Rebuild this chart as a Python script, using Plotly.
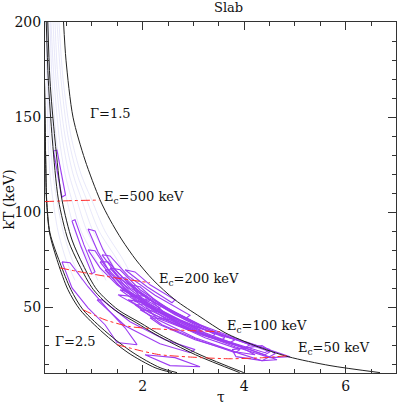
import plotly.graph_objects as go

# ---------------- data (tau, kT in keV) ----------------
gamma15_tau = [0.44, 0.489, 0.627, 0.863, 1.159, 1.356, 1.592, 1.868, 2.203, 2.636, 3.129, 3.622, 4.213, 4.863, 5.690, 6.675]
gamma15_kT  = [200, 179.9, 149.9, 127.4, 106.4, 95.9, 85.3, 74.8, 64.3, 53.8, 44.9, 36.5, 29.7, 23.9, 19.2, 15.5]

gamma25_tau = [0.05, 0.07, 0.09, 0.108, 0.173, 0.370, 0.587, 0.824, 1.297, 1.809, 2.341, 2.676]
gamma25_kT  = [200, 160, 125, 106.4, 89.0, 73.3, 59.1, 48.6, 36.5, 26.0, 18.1, 15.5]
gamma25b_tau = [0.05, 0.07, 0.09, 0.105, 0.165, 0.331, 0.528, 0.765, 1.218, 1.710, 2.242, 2.577]
gamma25b_kT  = [200, 160, 125, 106.4, 89.0, 73.3, 59.1, 48.6, 36.5, 26.0, 18.1, 15.5]

midA_tau = [0.13, 0.173, 0.272, 0.410, 0.607, 0.824, 1.099, 1.513, 1.947, 2.341, 3.129, 3.990]
midA_kT  = [200, 169.4, 137.9, 106.4, 85.3, 72.2, 59.1, 48.6, 41.8, 35.5, 24.9, 15.5]
midB_tau = [0.10, 0.14, 0.22, 0.34, 0.53, 0.75, 1.03, 1.44, 1.87, 2.26, 3.04, 3.91]
midB_kT  = [200, 169.4, 137.9, 106.4, 85.3, 72.2, 59.1, 48.6, 41.8, 35.5, 24.9, 15.5]

# faint lavender fan (tau values at the kT levels below)
fan_kT = [200, 170, 140, 120, 106, 90, 75, 64]
fan_tau = [
    [0.095, 0.114, 0.134, 0.173, 0.233, 0.331, 0.489, 0.666],
    [0.114, 0.134, 0.173, 0.233, 0.311, 0.430, 0.607, 0.804],
    [0.134, 0.173, 0.233, 0.311, 0.410, 0.548, 0.765, 0.962],
    [0.173, 0.213, 0.292, 0.390, 0.508, 0.666, 0.922, 1.119],
    [0.193, 0.252, 0.351, 0.469, 0.607, 0.784, 1.080, 1.277],
    [0.233, 0.292, 0.410, 0.548, 0.705, 0.902, 1.218, 1.434],
    [0.272, 0.331, 0.469, 0.627, 0.804, 1.021, 1.356, 1.572],
    [0.311, 0.390, 0.528, 0.705, 0.902, 1.139, 1.494, 1.710],
    [0.351, 0.430, 0.587, 0.784, 1.001, 1.257, 1.612, 1.828],
]

# constant cut-off energy lines
ec500_tau = [0.075, 0.6, 1.15]
ec500_kT  = [105.5, 106.0, 106.3]
ec200_tau = [0.370, 0.765, 1.454, 2.144]
ec200_kT  = [70.6, 68.5, 65.4, 62.8]
ec100_tau = [0.824, 1.257, 1.750, 2.538, 3.523]
ec100_kT  = [48.6, 43.3, 39.7, 38.1, 37.0]
ec50_tau  = [1.494, 1.947, 2.341, 3.129, 3.72, 4.41, 4.84]
ec50_kT   = [30.2, 27.1, 24.9, 23.4, 22.8, 23.4, 24.4]

# source confidence contours (closed loops)
contour_tau = [
    [0.242, 0.311, 0.479, 0.410],
    [0.607, 0.666, 0.843, 1.060, 1.001, 0.784],
    [0.922, 1.060, 1.218, 1.454, 1.848, 2.144, 2.085, 1.750, 1.356, 1.119],
    [0.922, 1.060, 1.257, 1.553, 1.947, 2.341, 2.282, 1.888, 1.494, 1.159],
    [0.410, 0.567, 0.922, 1.316, 1.651, 1.888, 1.494, 1.257, 0.922, 0.607],
    [1.159, 1.316, 1.651, 2.144, 2.833, 3.425, 3.326, 2.735, 2.045, 1.513],
    [1.356, 1.553, 1.947, 2.538, 3.326, 4.114, 4.016, 3.228, 2.439, 1.750],
    [1.454, 1.651, 2.045, 2.636, 3.523, 4.508, 4.410, 3.425, 2.538, 1.848],
    [1.750, 1.947, 2.341, 3.129, 4.016, 4.902, 4.508, 3.819, 2.932, 2.144],
    [1.947, 2.144, 2.538, 3.228, 4.114, 4.646, 4.351, 3.917, 3.031, 2.301],
    [2.045, 2.636, 3.129, 2.538],
    [3.760, 4.351, 4.607, 4.351, 3.838],
    [1.100, 1.198, 1.750, 2.439, 3.031, 2.932, 2.341, 1.651],
    [1.257, 1.395, 1.750, 2.341, 3.129, 3.050, 2.262, 1.632],
    [1.553, 1.750, 2.144, 2.735, 3.622, 3.523, 2.656, 2.045],
    [1.848, 2.045, 2.538, 3.228, 3.917, 3.819, 3.129, 2.380],
    [1.651, 1.848, 2.144, 2.636, 2.577, 2.085],
    [2.144, 2.538, 3.129, 3.917, 4.213, 3.819, 3.031, 2.341],
    [1.198, 1.356, 1.710, 2.242, 2.932, 2.853, 2.144, 1.553],
    [1.513, 1.848, 2.341, 3.031, 3.819, 3.720, 2.932, 2.144],
    [1.710, 1.947, 2.439, 3.129, 3.089, 2.341],
    [1.947, 2.341, 2.932, 3.720, 4.508, 4.410, 3.622, 2.833, 2.144],
    [1.848, 2.065, 2.065, 1.848],
]
contour_kT = [
    [132.1, 132.6, 109.0, 107.9],
    [95.3, 95.9, 82.7, 68.5, 67.5, 81.7],
    [91.1, 90.1, 80.1, 69.6, 59.1, 53.8, 52.3, 57.5, 68.0, 79.0],
    [80.1, 79.6, 71.7, 63.3, 55.4, 49.6, 48.1, 53.8, 61.7, 70.6],
    [73.8, 73.3, 60.7, 48.6, 39.1, 30.2, 31.3, 40.7, 49.6, 60.1],
    [73.8, 73.8, 64.3, 53.8, 43.3, 35.5, 33.9, 41.2, 51.7, 61.7],
    [70.6, 69.6, 59.1, 48.6, 38.1, 30.2, 28.6, 36.5, 47.0, 58.0],
    [65.4, 65.4, 55.4, 46.0, 35.5, 27.6, 26.0, 33.9, 44.4, 53.8],
    [61.7, 60.7, 51.2, 40.7, 31.8, 23.9, 23.4, 29.1, 38.1, 49.6],
    [53.8, 53.8, 44.4, 35.5, 27.6, 22.3, 21.8, 25.5, 33.9, 43.3],
    [24.9, 23.4, 18.6, 19.2],
    [27.6, 29.7, 25.5, 21.8, 23.9],
    [53.8, 53.8, 42.3, 32.8, 27.6, 26.0, 30.7, 40.2],
    [69.6, 69.6, 60.1, 50.7, 40.2, 38.6, 49.1, 58.6],
    [59.1, 58.0, 51.2, 43.3, 33.9, 32.3, 41.8, 49.6],
    [51.2, 51.2, 42.3, 33.9, 27.6, 26.0, 32.3, 40.7],
    [69.6, 68.5, 61.7, 53.8, 52.3, 60.7],
    [44.4, 43.3, 35.5, 29.1, 24.9, 26.5, 32.8, 40.7],
    [77.5, 76.9, 66.4, 56.2, 45.7, 44.1, 54.6, 64.9],
    [56.4, 55.4, 47.5, 39.6, 32.8, 31.3, 38.1, 46.9],
    [53.8, 52.8, 46.0, 38.1, 36.5, 44.4],
    [48.6, 47.5, 40.7, 33.9, 26.5, 24.9, 31.8, 38.6, 45.7],
    [55.9, 55.9, 52.8, 52.8],
]

x_ticks = [2, 4, 6]
y_ticks = [50, 100, 150, 200]

# labels: (text, tau, kT, anchor)
labels = [
    ("\u0393=1.5", 1.375, 152.0, "center"),
    ("\u0393=2.5", 0.666, 31.7, "center"),
    ("E<sub>c</sub>=500 keV", 1.198, 107.4, "left"),
    ("E<sub>c</sub>=200 keV", 2.282, 64.3, "left"),
    ("E<sub>c</sub>=100 keV", 3.621, 39.7, "left"),
    ("E<sub>c</sub>=50 keV", 5.021, 28.1, "left"),
]

# ---------------- figure ----------------
FONT = "DejaVu Serif"
fig = go.Figure()

for t in fan_tau:
    fig.add_trace(go.Scatter(x=t, y=fan_kT, mode="lines",
                             line=dict(color="rgba(190,190,240,0.4)", width=0.9, shape="spline", smoothing=0.8),
                             hoverinfo="skip", showlegend=False))

for ct, ck in zip(contour_tau, contour_kT):
    fig.add_trace(go.Scatter(x=ct + ct[:1], y=ck + ck[:1], mode="lines",
                             line=dict(color="#9d3cf2", width=1.1),
                             hoverinfo="skip", showlegend=False))

for xt, yk in [(gamma15_tau, gamma15_kT), (gamma25_tau, gamma25_kT), (gamma25b_tau, gamma25b_kT),
               (midA_tau, midA_kT), (midB_tau, midB_kT)]:
    fig.add_trace(go.Scatter(x=xt, y=yk, mode="lines",
                             line=dict(color="#222222", width=1.0, shape="spline", smoothing=0.8),
                             hoverinfo="skip", showlegend=False))

for xt, yk in [(ec500_tau, ec500_kT), (ec200_tau, ec200_kT), (ec100_tau, ec100_kT), (ec50_tau, ec50_kT)]:
    fig.add_trace(go.Scatter(x=xt, y=yk, mode="lines",
                             line=dict(color="#ff2a2a", width=1, dash="dashdot", shape="spline", smoothing=0.6),
                             hoverinfo="skip", showlegend=False))

for text, tx, ty, anc in labels:
    fig.add_annotation(x=tx, y=ty, text=text, showarrow=False, xanchor=anc, yanchor="middle",
                       font=dict(family=FONT, size=13, color="#111111"))

fig.add_annotation(xref="paper", yref="paper", x=-0.103, y=0.494, text="kT (keV)", textangle=-90,
                   xanchor="center", yanchor="middle",
                   showarrow=False, font=dict(family=FONT, size=14, color="#111111"))
fig.add_annotation(xref="paper", yref="paper", x=0.5, y=-0.069, text="\u03c4", showarrow=False,
                   xanchor="center", yanchor="middle",
                   font=dict(family=FONT, size=14, color="#111111"))

axis_common = dict(showgrid=False, zeroline=False, showline=True, linecolor="#333333", linewidth=1,
                   mirror="allticks", ticks="inside", ticklen=8, tickcolor="#333333", tickwidth=1,
                   tickfont=dict(family=FONT, size=14, color="#111111"), automargin=False)

fig.update_xaxes(range=[0.075, 6.99], tickvals=x_ticks, ticktext=[str(v) for v in x_ticks],
                 minor=dict(dtick=0.5, tick0=0, ticklen=4, ticks="inside", tickcolor="#333333"),
                 **axis_common)
fig.update_yaxes(range=[15.3, 200], tickvals=y_ticks, ticktext=[str(v) for v in y_ticks],
                 minor=dict(dtick=10, tick0=0, ticklen=4, ticks="inside", tickcolor="#333333"),
                 **axis_common)

fig.update_layout(
    width=399, height=406,
    margin=dict(l=45, r=3, t=22, b=33, autoexpand=False),
    paper_bgcolor="white", plot_bgcolor="white",
    title=dict(text="Slab", x=0.573, xanchor="center", y=0.981, yanchor="middle",
               font=dict(family=FONT, size=13, color="#111111")),
    showlegend=False,
)

fig.write_html("out.html", config={"displayModeBar": False},
               post_script="document.body.style.margin='0';document.body.style.padding='0';")
